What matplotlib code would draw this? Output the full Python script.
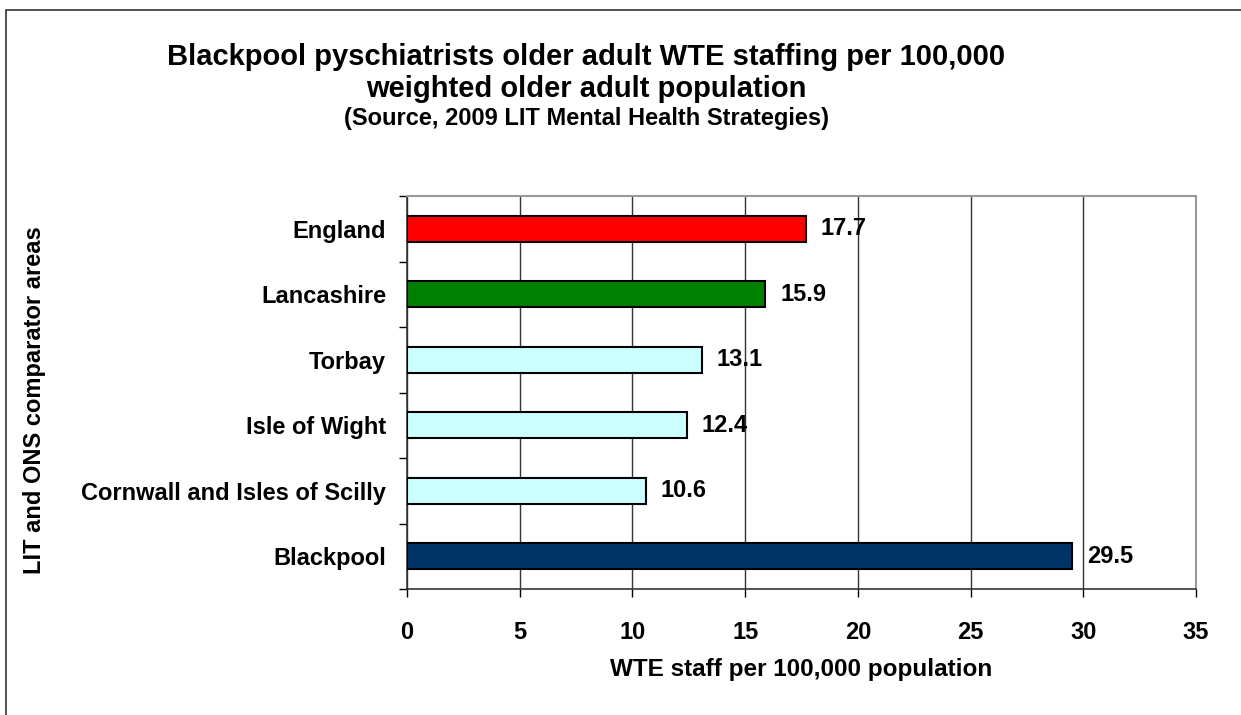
import matplotlib
matplotlib.use("Agg")
import matplotlib.pyplot as plt
from matplotlib.patches import Rectangle
from matplotlib.ticker import MultipleLocator, FixedLocator

plt.rcParams['font.family'] = ['Liberation Sans', 'DejaVu Sans']
plt.rcParams['font.weight'] = 'bold'

areas = ['Blackpool', 'Cornwall and Isles of Scilly', 'Isle of Wight',
         'Torbay', 'Lancashire', 'England']
values = [29.5, 10.6, 12.4, 13.1, 15.9, 17.7]
colors = ['#003366', '#CCFFFF', '#CCFFFF', '#CCFFFF', '#008000', '#FF0000']

fig = plt.figure(figsize=(12.41, 7.15), dpi=100)
ax = fig.add_axes([407/1241, 1 - 589/715, (1196-407)/1241, (589-196)/715])

# outer frame
fig.patches.append(Rectangle((6/1241, -0.1), 1.2, 1 - 10/715 + 0.1,
                             transform=fig.transFigure, fill=False,
                             edgecolor='#333333', linewidth=1.2))

y = range(len(areas))
ax.barh(y, values, height=0.4, color=colors, edgecolor='black',
        linewidth=1.5, zorder=3)

for i, v in enumerate(values):
    ax.text(v + 0.65, i, f'{v}', va='center', ha='left', fontsize=17,
            fontweight='bold', zorder=4)

ax.set_xlim(0, 35)
ax.set_ylim(-0.5, len(areas) - 0.5)
ax.xaxis.set_major_locator(MultipleLocator(5))
ax.set_yticks(list(y))
ax.set_yticklabels(areas, fontsize=17, fontweight='bold')
ax.yaxis.set_minor_locator(FixedLocator([i - 0.5 for i in range(len(areas) + 1)]))
ax.tick_params(axis='y', which='major', length=0, pad=15)
ax.tick_params(axis='y', which='minor', length=6, width=1, direction='out')
ax.tick_params(axis='x', length=6, width=1, direction='out', labelsize=17, pad=17)
for lab in ax.get_xticklabels():
    lab.set_fontweight('bold')

ax.grid(axis='x', color='#333333', linewidth=1, zorder=0)
for s in ['top', 'right']:
    ax.spines[s].set_color('#999999')
    ax.spines[s].set_linewidth(1.5)
for s in ['left', 'bottom']:
    ax.spines[s].set_color('#333333')
    ax.spines[s].set_linewidth(1.2)

ax.set_xlabel('WTE staff per 100,000 population', fontsize=17.5,
              fontweight='bold', labelpad=10)
fig.text(35/1241, 1 - 400/715, 'LIT and ONS comparator areas', rotation=90,
         ha='center', va='center', fontsize=17, fontweight='bold')

fig.text(586/1241, 1 - 57/715, 'Blackpool pyschiatrists older adult WTE staffing per 100,000',
         ha='center', va='center', fontsize=21, fontweight='bold')
fig.text(586/1241, 1 - 89/715, 'weighted older adult population',
         ha='center', va='center', fontsize=21, fontweight='bold')
fig.text(586/1241, 1 - 118/715, '(Source, 2009 LIT Mental Health Strategies)',
         ha='center', va='center', fontsize=17, fontweight='bold')

fig.savefig('out.png', dpi=100)
